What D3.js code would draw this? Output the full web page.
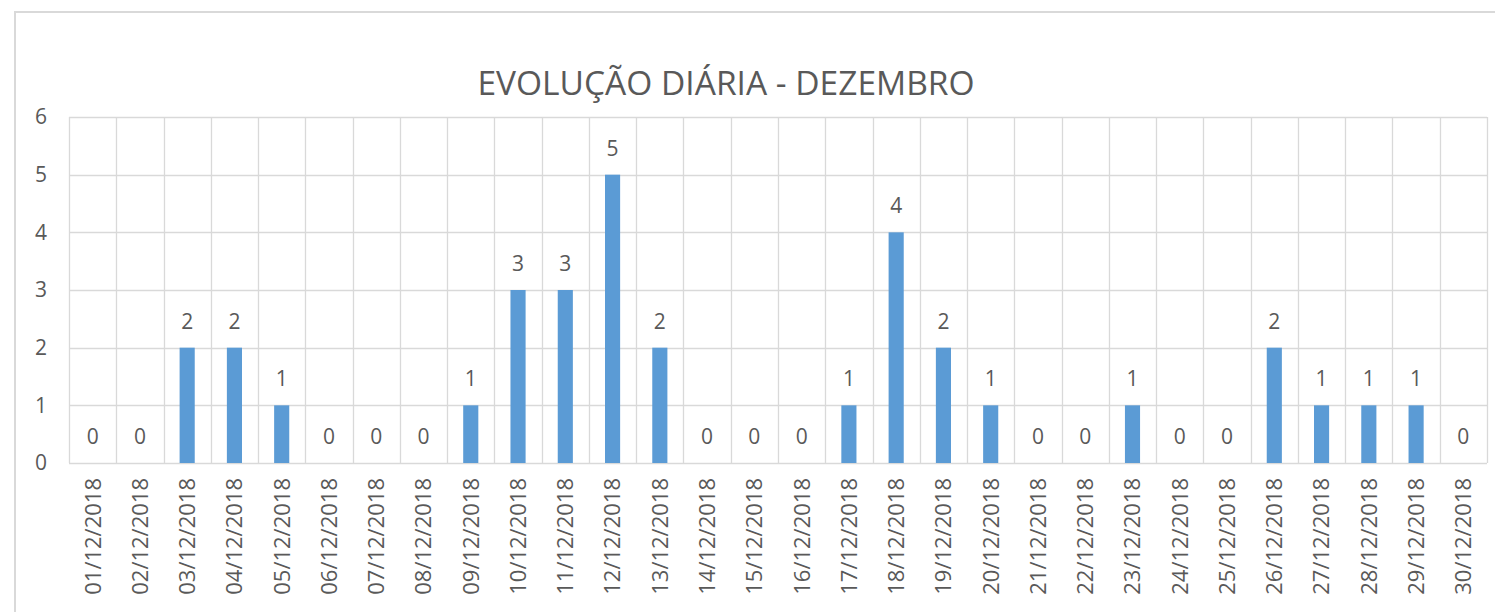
<!DOCTYPE html>
<html><head><meta charset="utf-8">
<script src="https://cdn.jsdelivr.net/npm/d3@7"></script>
<style>html,body{margin:0;padding:0;background:#fff;}svg{display:block;}</style>
</head><body>
<svg id="c" width="1495" height="612"></svg>
<script>
const categories = ["01/12/2018","02/12/2018","03/12/2018","04/12/2018","05/12/2018","06/12/2018","07/12/2018","08/12/2018","09/12/2018","10/12/2018","11/12/2018","12/12/2018","13/12/2018","14/12/2018","15/12/2018","16/12/2018","17/12/2018","18/12/2018","19/12/2018","20/12/2018","21/12/2018","22/12/2018","23/12/2018","24/12/2018","25/12/2018","26/12/2018","27/12/2018","28/12/2018","29/12/2018","30/12/2018"];
const values = [0,0,2,2,1,0,0,0,1,3,3,5,2,0,0,0,1,4,2,1,0,0,1,0,0,2,1,1,1,0];
const yTicks = [0,1,2,3,4,5,6];
const title = "EVOLUÇÃO DIÁRIA - DEZEMBRO";

const font = "'Open Sans', sans-serif";
const textColor = "#595959";
const gridColor = "#d9d9d9";
const barColor = "#5b9bd5";

const svg = d3.select("#c");
const L = 69, R = 1487, T = 117, B = 463;

// outer chart border
svg.append("rect").attr("x",15).attr("y",12).attr("width",1495).attr("height",700)
  .attr("fill","none").attr("stroke",gridColor).attr("stroke-width",2);

const x = d3.scaleBand().domain(categories).range([L,R]).paddingInner(0.68).paddingOuter(0.34);
const y = d3.scaleLinear().domain([0,6]).range([B,T]);

// horizontal grid
svg.append("g").selectAll("line").data(yTicks).join("line")
  .attr("x1",L).attr("x2",R)
  .attr("y1",d=>Math.round(y(d))+0.5).attr("y2",d=>Math.round(y(d))+0.5)
  .attr("stroke",gridColor).attr("stroke-width",1.3);

// vertical grid at band boundaries
const step = x.step();
const bounds = d3.range(categories.length+1).map(i => L + i*step);
svg.append("g").selectAll("line").data(bounds).join("line")
  .attr("x1",d=>Math.round(d)+0.5).attr("x2",d=>Math.round(d)+0.5)
  .attr("y1",T).attr("y2",B)
  .attr("stroke",gridColor).attr("stroke-width",1.3);

// bars
svg.append("g").selectAll("rect").data(values).join("rect")
  .attr("x",(d,i)=>x(categories[i]))
  .attr("width",x.bandwidth())
  .attr("y",d=>y(d))
  .attr("height",d=>y(0)-y(d))
  .attr("fill",barColor);

// data labels
svg.append("g").selectAll("text").data(values).join("text")
  .attr("x",(d,i)=>x(categories[i])+x.bandwidth()/2)
  .attr("y",d=>y(d)-19)
  .attr("text-anchor","middle")
  .attr("font-family",font).attr("font-size",21).attr("fill",textColor)
  .text(d=>d);

// y axis labels
const yAxis = d3.axisLeft(y).tickValues(yTicks).tickFormat(d3.format("d")).tickSize(0).tickPadding(0);
const gy = svg.append("g").attr("transform",`translate(47,0)`).call(yAxis);
gy.select(".domain").remove();
gy.selectAll("text").attr("font-family",font).attr("font-size",21).attr("fill",textColor);

// x axis labels
const xAxis = d3.axisBottom(x).tickSize(0).tickPadding(0);
const gx = svg.append("g").attr("transform",`translate(0,${B})`).call(xAxis);
gx.select(".domain").remove();
gx.selectAll("text")
  .attr("font-family",font).attr("font-size",22).attr("fill",textColor)
  .attr("text-anchor","end")
  .attr("transform","rotate(-90)")
  .attr("x",-15).attr("y",0).attr("dy","0.36em");

// title
svg.append("text").attr("x",726).attr("y",95).attr("text-anchor","middle")
  .attr("font-family",font).attr("font-size",33.5).attr("fill",textColor)
  .text(title);
</script>
</body></html>
